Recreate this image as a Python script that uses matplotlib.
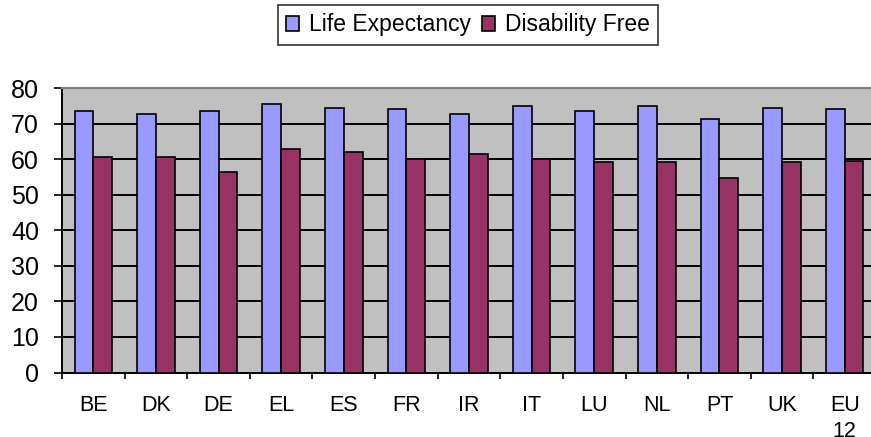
import matplotlib
matplotlib.use('Agg')
import matplotlib.pyplot as plt
import numpy as np

# data
countries = ['BE', 'DK', 'DE', 'EL', 'ES', 'FR', 'IR', 'IT', 'LU', 'NL', 'PT', 'UK', 'EU\n12']
life_exp = [73.6, 72.8, 73.6, 75.4, 74.5, 74.1, 72.8, 75.0, 73.6, 75.0, 71.3, 74.5, 74.1]
disability_free = [60.5, 60.5, 56.5, 62.9, 61.9, 60.0, 61.4, 60.0, 59.2, 59.2, 54.8, 59.1, 59.6]

plt.rcParams['font.family'] = ['Liberation Sans', 'DejaVu Sans']

fig = plt.figure(figsize=(8.71, 4.37), dpi=100)
# plot area runs slightly past the right edge, like the original export
ax = fig.add_axes([62 / 871, 64.5 / 437, 814 / 871, 284.5 / 437])
ax.set_facecolor('#C0C0C0')

x = np.arange(len(countries))
w = 0.3
ax.bar(x - w / 2, life_exp, w, color='#9999FF', edgecolor='black', linewidth=1.2,
       label='Life Expectancy', zorder=3)
ax.bar(x + w / 2, disability_free, w, color='#993366', edgecolor='black', linewidth=1.2,
       label='Disability Free', zorder=3)

ax.set_xlim(-0.5, len(countries) - 0.5)
ax.set_ylim(0, 80)
ax.set_yticks(range(0, 90, 10))
ax.grid(axis='y', color='black', linewidth=1.4, zorder=1)

# labels at centres, tick marks at category boundaries
ax.set_xticks(x)
ax.set_xticklabels(countries, fontsize=15.5, linespacing=1.35)
ax.tick_params(axis='x', which='major', length=0, pad=16)
ax.set_xticks(np.arange(-0.5, len(countries), 1), minor=True)
ax.tick_params(axis='x', which='minor', length=4.5, width=1.2, direction='out')
ax.tick_params(axis='y', labelsize=18, length=6, width=1.2, pad=10.5)

for s in ['left', 'bottom']:
    ax.spines[s].set_color('black')
    ax.spines[s].set_linewidth(1.4)
ax.spines['top'].set_color('#808080')
ax.spines['top'].set_linewidth(1.6)
ax.spines['right'].set_visible(False)

leg = fig.legend(loc='center', bbox_to_anchor=(468 / 871, 1 - 25 / 437), ncol=2,
                 fontsize=16.5, frameon=True, fancybox=False, edgecolor='black',
                 handlelength=0.55, handleheight=0.65, handletextpad=0.45,
                 columnspacing=0.5, borderpad=0.35, borderaxespad=0)
leg.get_frame().set_linewidth(1.2)

fig.savefig('out.png', dpi=100)
